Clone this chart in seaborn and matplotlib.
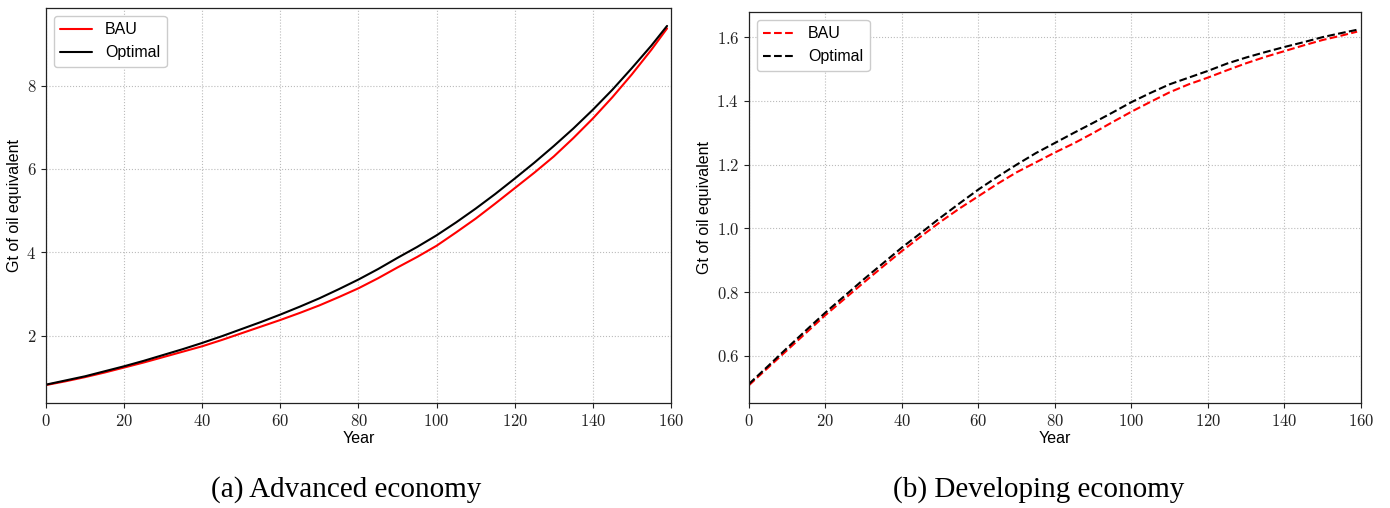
import matplotlib
matplotlib.use("Agg")
import matplotlib.pyplot as plt
import matplotlib.ticker as mticker
import pandas as pd
import seaborn as sns

# ── Data (every 5 years) ─────────────────────────────────────────────────────
years = [0, 5, 10, 15, 20, 25, 30, 35, 40, 45, 50, 55, 60, 65, 70, 75, 80,
         85, 90, 95, 100, 105, 110, 115, 120, 125, 130, 135, 140, 145, 150, 155, 159]

adv_bau = [0.82, 0.91, 1.01, 1.12, 1.24, 1.36, 1.49, 1.62, 1.75, 1.90, 2.06,
           2.22, 2.38, 2.55, 2.73, 2.93, 3.14, 3.38, 3.64, 3.89, 4.16, 4.48,
           4.81, 5.17, 5.54, 5.91, 6.30, 6.74, 7.21, 7.72, 8.27, 8.86, 9.37]
adv_opt = [0.83, 0.93, 1.03, 1.15, 1.27, 1.40, 1.54, 1.68, 1.83, 1.99, 2.16,
           2.33, 2.51, 2.70, 2.90, 3.12, 3.35, 3.60, 3.87, 4.13, 4.41, 4.72,
           5.05, 5.40, 5.77, 6.15, 6.55, 6.97, 7.42, 7.90, 8.42, 8.96, 9.43]

dev_bau = [0.508, 0.563, 0.618, 0.673, 0.728, 0.779, 0.830, 0.880, 0.929, 0.975,
           1.020, 1.062, 1.101, 1.140, 1.176, 1.207, 1.238, 1.267, 1.299, 1.333,
           1.366, 1.397, 1.427, 1.452, 1.473, 1.496, 1.518, 1.538, 1.556, 1.574,
           1.591, 1.605, 1.617]
dev_opt = [0.512, 0.568, 0.625, 0.681, 0.736, 0.788, 0.840, 0.890, 0.940, 0.986,
           1.033, 1.078, 1.122, 1.162, 1.200, 1.236, 1.268, 1.300, 1.331, 1.363,
           1.396, 1.425, 1.452, 1.473, 1.494, 1.517, 1.536, 1.553, 1.569, 1.584,
           1.600, 1.613, 1.623]

captions = ["(a) Advanced economy", "(b) Developing economy"]

sns.set_theme(style="ticks", rc={"mathtext.fontset": "cm", "text.color": "black",
                                 "axes.labelcolor": "black"})
plt.rcParams["font.family"] = ["Liberation Sans", "DejaVu Sans"]


def _df(bau, opt):
    return pd.DataFrame({"year": years, "BAU": bau, "Optimal": opt})


def _style(ax, fmt):
    ax.set_xlim(0, 160)
    ax.xaxis.set_major_locator(mticker.MultipleLocator(20))
    ax.xaxis.set_major_formatter(mticker.FuncFormatter(lambda v, _: f"${v:.0f}$"))
    ax.yaxis.set_major_formatter(mticker.FuncFormatter(lambda v, _: f"${v:{fmt}}$"))
    ax.grid(True, linestyle=":", color="#bbbbbb", linewidth=0.8)
    ax.tick_params(labelsize=12, colors="#222222", length=3.5, width=0.8)
    for s in ax.spines.values():
        s.set_color("#222222")
        s.set_linewidth(0.9)
    ax.set_xlabel("Year", fontsize=11.5, labelpad=2)
    ax.set_ylabel("Gt of oil equivalent", fontsize=11.5, labelpad=3)
    ax.legend(loc="upper left", fontsize=11.5, frameon=True, fancybox=True,
              edgecolor="#cccccc", framealpha=1, handlelength=2.0)


fig = plt.figure(figsize=(13.9, 5.08), dpi=100)
ax_a = fig.add_axes([0.0331, 0.2067, 0.4496, 0.7776])
ax_b = fig.add_axes([0.5388, 0.2067, 0.4403, 0.7697])

adv = _df(adv_bau, adv_opt)
sns.lineplot(data=adv, x="year", y="BAU", color="red", linewidth=1.5, label="BAU", ax=ax_a)
sns.lineplot(data=adv, x="year", y="Optimal", color="black", linewidth=1.5, label="Optimal", ax=ax_a)
_style(ax_a, ".0f")

dev = _df(dev_bau, dev_opt)
sns.lineplot(data=dev, x="year", y="BAU", color="red", linewidth=1.5, linestyle="--",
             label="BAU", ax=ax_b)
sns.lineplot(data=dev, x="year", y="Optimal", color="black", linewidth=1.5, linestyle="--",
             label="Optimal", ax=ax_b)
_style(ax_b, ".1f")

for xc, cap in zip([0.249, 0.747], captions):
    fig.text(xc, 0.037, cap, ha="center", va="center", fontsize=21, color="black",
             family=["Liberation Serif", "DejaVu Serif"])

fig.savefig("out.png", dpi=100)
